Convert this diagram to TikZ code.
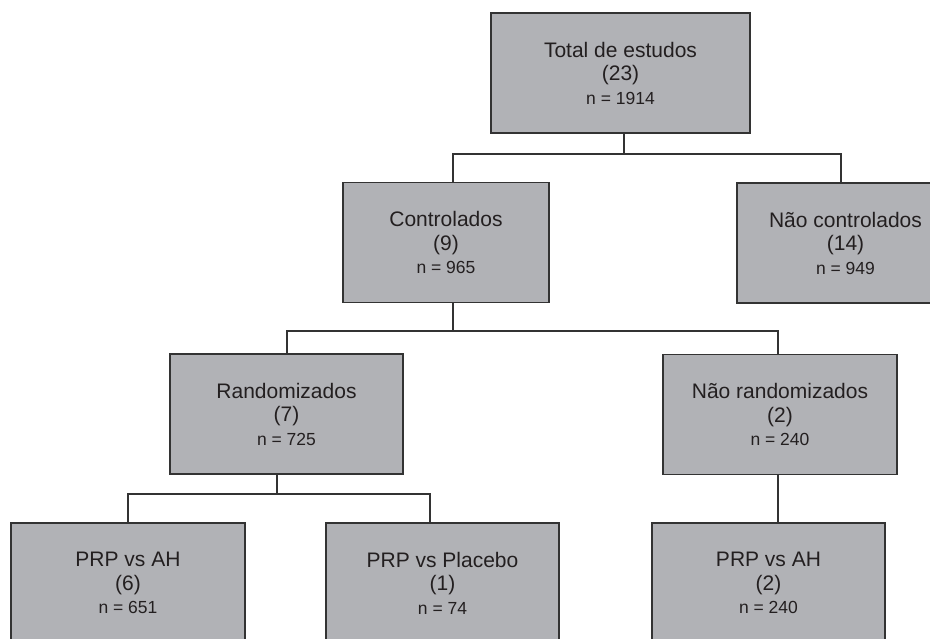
\documentclass[tikz,border=0pt]{standalone}
\usepackage{fontspec}
\setmainfont{Liberation Sans}
\begin{document}
\begin{tikzpicture}[x=1pt,y=-1pt]
\definecolor{boxfill}{HTML}{B1B2B6}
\definecolor{edgecol}{HTML}{333333}
\definecolor{txtcol}{HTML}{231F20}
\tikzset{
  box/.style={draw=edgecol, fill=boxfill, line width=1.3pt, minimum width=#1,
    minimum height=120pt, inner sep=0pt, align=center, text=txtcol,
    font=\fontsize{21}{23.5}\selectfont},
  link/.style={draw=edgecol, line width=1.2pt}
}
\newcommand\smline[1]{{\fontsize{17.5}{23.5}\selectfont #1}}
\useasboundingbox (0,0) rectangle (930,639);
\clip (0,0) rectangle (930,639);

\node[box=259pt] (total) at (620.5,73) {Total de estudos\\(23)\\\smline{n = 1914}};
\node[box=206pt] (ctrl) at (446,242.5) {Controlados\\(9)\\\smline{n = 965}};
\node[box=217pt] (nctrl) at (845.5,243) {Não controlados\\(14)\\\smline{n = 949}};
\node[box=233pt] (rand) at (286.5,414) {Randomizados\\(7)\\\smline{n = 725}};
\node[box=234pt] (nrand) at (780,414.5) {Não randomizados\\(2)\\\smline{n = 240}};
\node[box=234pt] (ah1) at (128,583) {PRP vs AH\\(6)\\\smline{n = 651}};
\node[box=233pt] (plac) at (442.5,583) {PRP vs Placebo\\(1)\\\smline{n = 74}};
\node[box=233pt] (ah2) at (768.5,583) {PRP vs AH\\(2)\\\smline{n = 240}};

\coordinate (j1) at (624,154);
\coordinate (j2) at (453,331);
\coordinate (j3) at (277,494);

\draw[link] ([xshift=3.5pt]total.south) -- (j1);
\draw[link] ([xshift=7pt]ctrl.north) |- (j1) -| ([xshift=-4.5pt]nctrl.north);
\draw[link] ([xshift=7pt]ctrl.south) -- (j2);
\draw[link] ([xshift=0.5pt]rand.north) |- (j2) -| ([xshift=-2pt]nrand.north);
\draw[link] ([xshift=-9.5pt]rand.south) -- (j3);
\draw[link] (ah1.north) |- (j3) -| ([xshift=-12.5pt]plac.north);
\draw[link] ([xshift=-2pt]nrand.south) -- ([xshift=9.5pt]ah2.north);
\end{tikzpicture}
\end{document}
